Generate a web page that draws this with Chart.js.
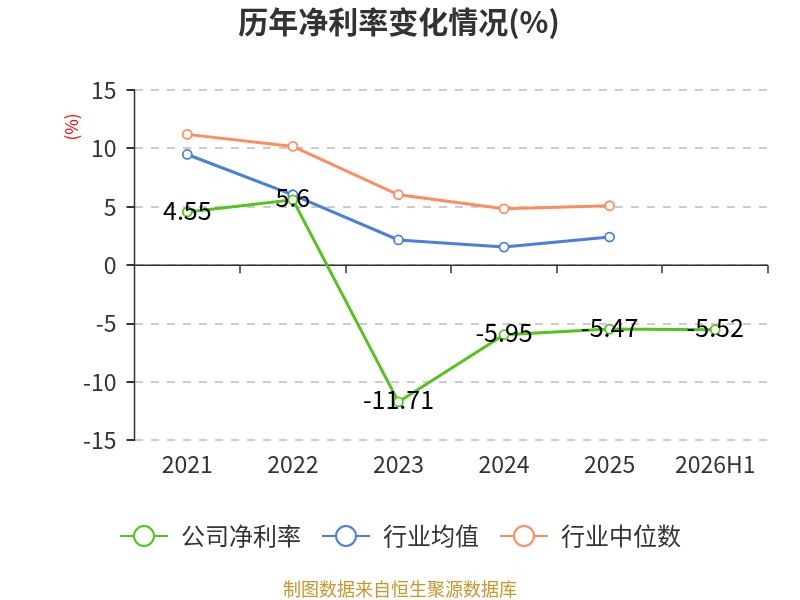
<!DOCTYPE html>
<html>
<head>
<meta charset="utf-8">
<script src="https://cdn.jsdelivr.net/npm/chart.js@4/dist/chart.umd.min.js"></script>
<style>
  html, body { margin: 0; padding: 0; background: #fff; }
  #wrap { width: 800px; height: 600px; position: relative; }
</style>
</head>
<body>
<div id="wrap"><canvas id="myChart" width="800" height="600"></canvas></div>
<script>
const years = ['2021', '2022', '2023', '2024', '2025', '2026H1'];
const company_margin = [4.55, 5.6, -11.71, -5.95, -5.47, -5.52];
const industry_avg = [9.48, 6.03, 2.16, 1.55, 2.41, null];
const industry_median = [11.2, 10.17, 6.03, 4.83, 5.09, null];
const y_ticks = [-15, -10, -5, 0, 5, 10, 15];

const font_family = '"Noto Sans CJK SC", "Microsoft YaHei", sans-serif';
const green = '#52c41a';
const blue = '#4a7fe0';
const orange = '#ff8c5a';

// legend symbol: short line with a hollow circle in the middle
make_symbol = (color) => {
    const c = document.createElement('canvas');
    c.width = 50; c.height = 24;
    const g = c.getContext('2d');
    g.strokeStyle = color;
    g.lineWidth = 2;
    g.beginPath(); g.moveTo(1, 12); g.lineTo(49, 12); g.stroke();
    g.fillStyle = '#fff';
    g.beginPath(); g.arc(25, 12, 10, 0, Math.PI * 2); g.fill(); g.stroke();
    return c;
}

const deco = {
    id: 'deco',
    afterLayout(chart) {
        // center the legend on the whole canvas, not on the padded box
        const lg = chart.legend;
        lg.left = 0; lg.right = chart.width; lg.width = chart.width;
    },
    beforeDatasetsDraw(chart) {
        const {ctx, chartArea, scales} = chart;
        const y0 = scales.y.getPixelForValue(0);
        ctx.save();
        ctx.strokeStyle = '#333';
        ctx.lineWidth = 1.5;
        ctx.beginPath();
        ctx.moveTo(chartArea.left, chartArea.top);
        ctx.lineTo(chartArea.left, chartArea.bottom);
        ctx.moveTo(chartArea.left, y0);
        ctx.lineTo(chartArea.right, y0);
        const step = (chartArea.right - chartArea.left) / years.length;
        for (let i = 1; i <= years.length; i++) {
            const x = Math.round(chartArea.left + step * i);
            ctx.moveTo(x, y0);
            ctx.lineTo(x, y0 + 8);
        }
        ctx.stroke();
        ctx.restore();
    },
    afterDraw(chart) {
        const {ctx} = chart;
        ctx.save();
        ctx.fillStyle = '#333';
        ctx.font = 'bold 30px ' + font_family;
        ctx.textAlign = 'center';
        ctx.textBaseline = 'middle';
        ctx.fillText('历年净利率变化情况(%)', 399, 22);

        ctx.fillStyle = '#c8962c';
        ctx.font = '18px ' + font_family;
        ctx.fillText('制图数据来自恒生聚源数据库', 400, 589);

        ctx.translate(72, 127);
        ctx.rotate(-Math.PI / 2);
        ctx.fillStyle = '#ff0000';
        ctx.font = '17px ' + font_family;
        ctx.fillText('(%)', 0, 0);
        ctx.restore();

        // value labels on the company series
        const meta = chart.getDatasetMeta(0);
        ctx.save();
        ctx.fillStyle = '#000';
        ctx.font = '25px ' + font_family;
        ctx.textAlign = 'center';
        ctx.textBaseline = 'middle';
        meta.data.forEach((pt, i) => {
            ctx.fillText(String(company_margin[i]), pt.x, pt.y - 2);
        });
        ctx.restore();
    }
};

new Chart('myChart', {
    type: 'line',
    data: {
        labels: years,
        datasets: [
            {label: '公司净利率', data: company_margin, borderColor: green, backgroundColor: '#fff'},
            {label: '行业均值', data: industry_avg, borderColor: blue, backgroundColor: '#fff'},
            {label: '行业中位数', data: industry_median, borderColor: orange, backgroundColor: '#fff'}
        ]
    },
    options: {
        responsive: false,
        animation: false,
        devicePixelRatio: 1,
        layout: {padding: {top: 90, left: 73, right: 32, bottom: 42}},
        elements: {
            line: {borderWidth: 3, tension: 0},
            point: {radius: 4.5, borderWidth: 1.8, hoverRadius: 4.5}
        },
        scales: {
            x: {
                offset: true,
                grid: {display: false},
                border: {display: false},
                ticks: {color: '#333', font: {size: 23, family: font_family}, padding: 2},
                afterFit: (axis) => { axis.height += 24; }
            },
            y: {
                min: -15,
                max: 15,
                afterBuildTicks: (axis) => { axis.ticks = y_ticks.map(v => ({value: v})); },
                grid: {color: '#ccc', lineWidth: 2, tickColor: '#333', tickLength: 8},
                border: {display: false, dash: [8, 8]},
                ticks: {color: '#333', font: {size: 23, family: font_family}, padding: 10}
            }
        },
        plugins: {
            title: {display: false},
            tooltip: {enabled: false},
            legend: {
                position: 'bottom',
                labels: {
                    color: '#333',
                    font: {size: 24, family: font_family},
                    usePointStyle: true,
                    pointStyleWidth: 50,
                    padding: 20,
                    generateLabels: (chart) => chart.data.datasets.map((ds, i) => ({
                        text: ds.label,
                        pointStyle: make_symbol(ds.borderColor),
                        fontColor: '#333',
                        strokeStyle: ds.borderColor,
                        fillStyle: '#fff',
                        lineWidth: 0,
                        datasetIndex: i
                    }))
                }
            }
        }
    },
    plugins: [deco]
});
</script>
</body>
</html>
